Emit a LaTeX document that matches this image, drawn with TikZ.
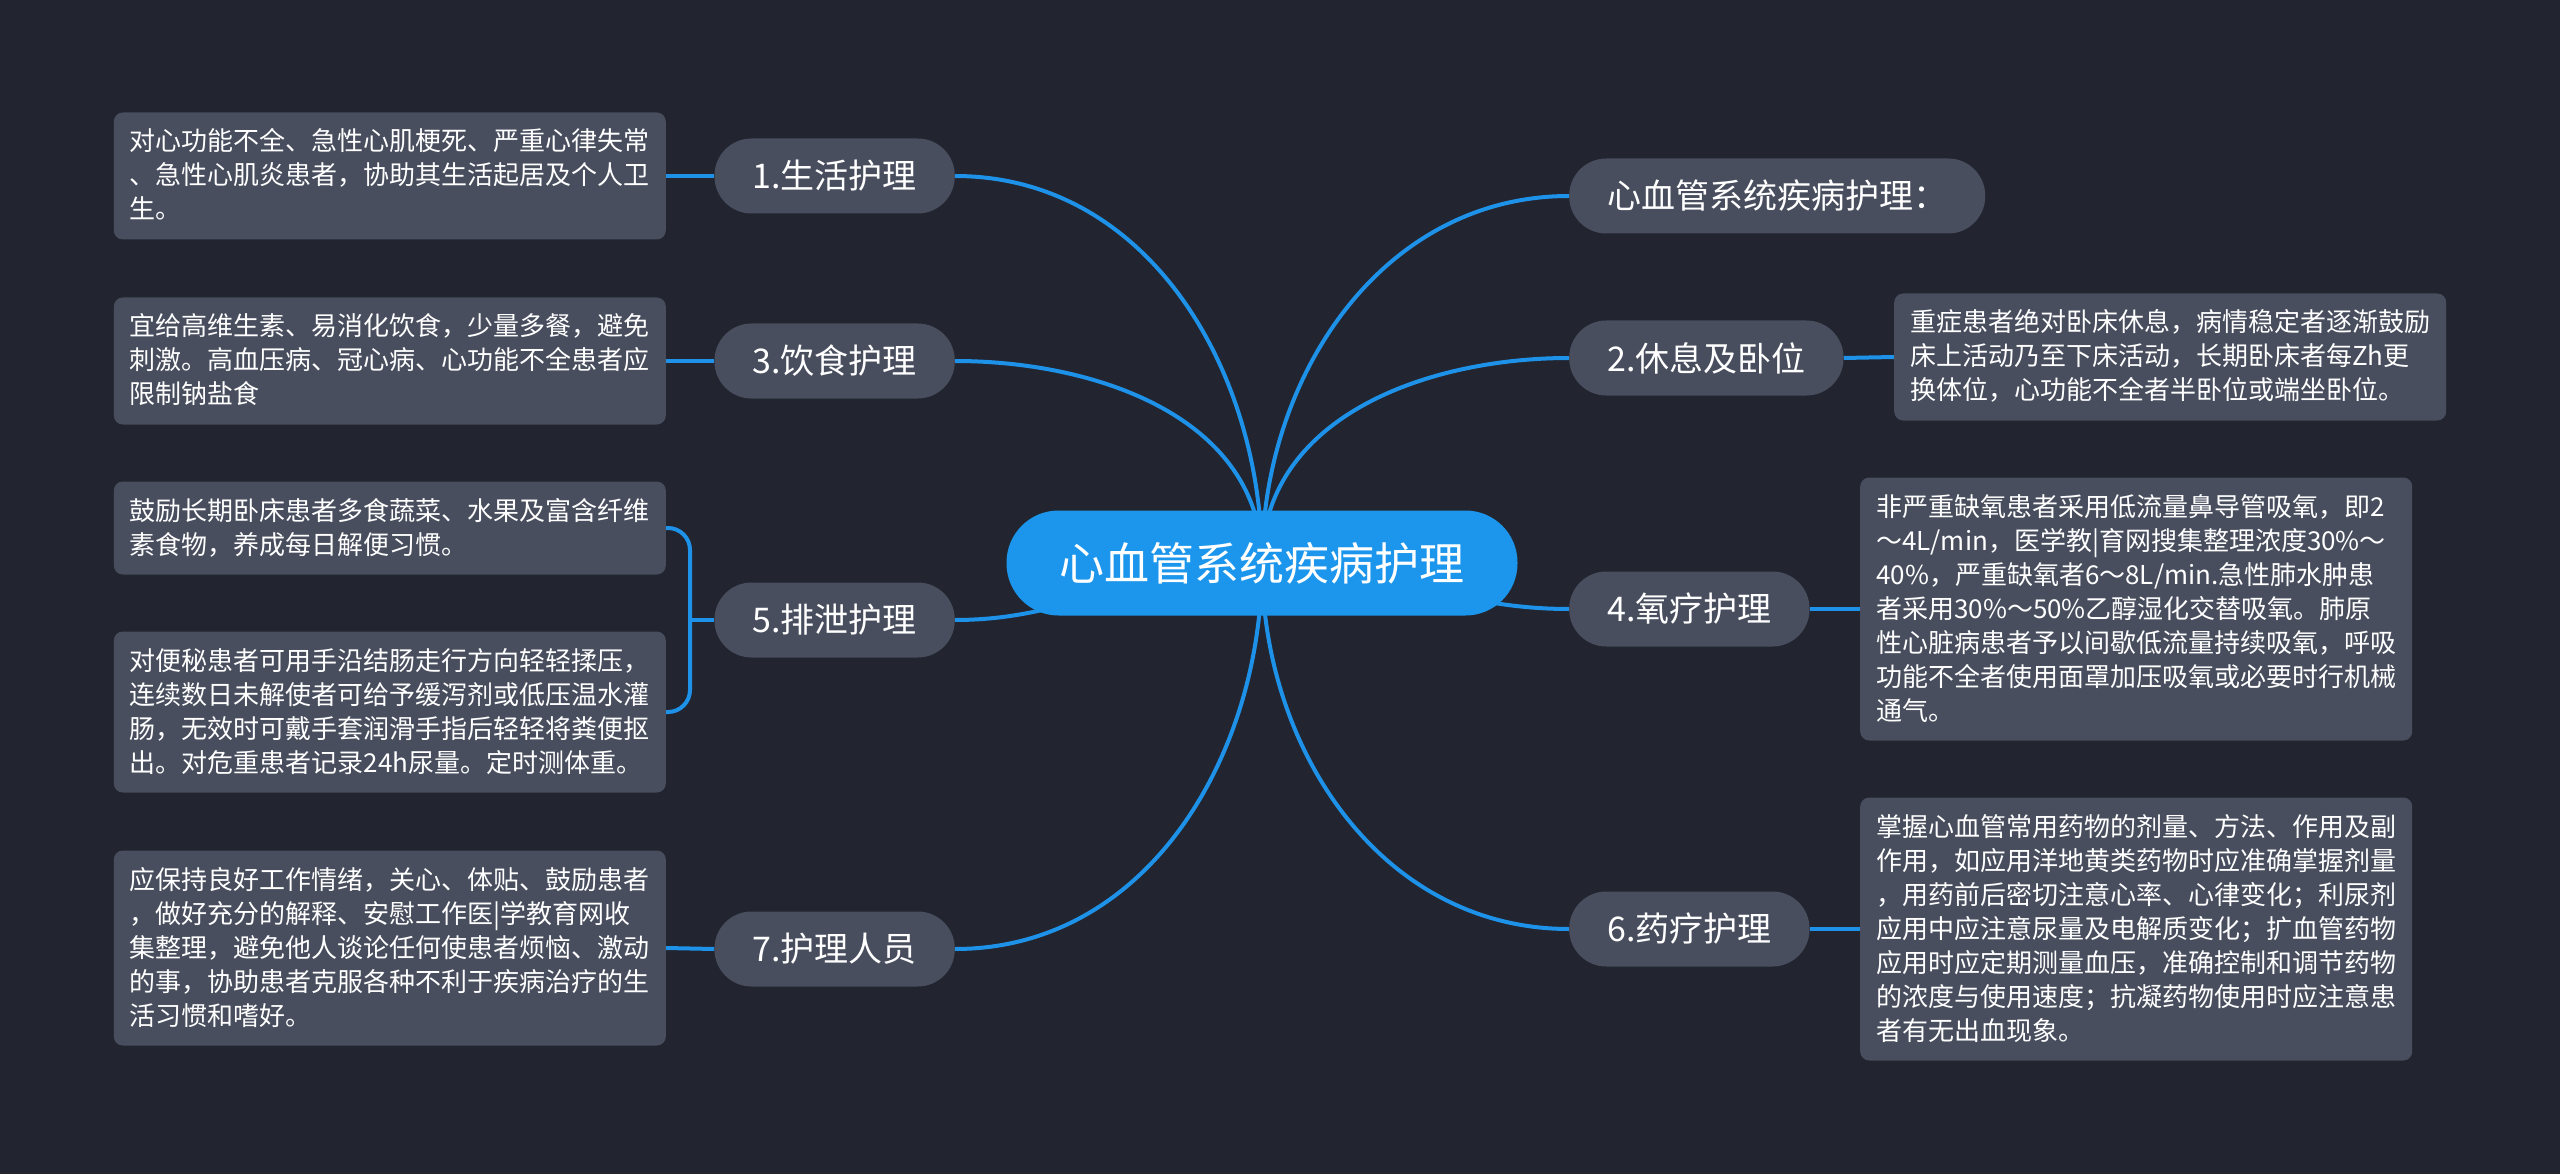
\documentclass[tikz,border=0pt]{standalone}
\usepackage{fontspec}
\setmainfont{Noto Sans CJK SC}
\usetikzlibrary{calc}

\definecolor{bgdark}{RGB}{34,37,47}
\definecolor{boxgray}{RGB}{72,78,94}
\definecolor{rootblue}{RGB}{27,150,236}
\definecolor{linkblue}{RGB}{30,146,232}

\pgfdeclarelayer{back}
\pgfsetlayers{back,main}

\newcommand{\ls}{\rule[-8pt]{0pt}{34pt}}

\tikzset{
  rootnode/.style={fill=rootblue, text=white, rounded corners=52pt, minimum width=511pt,
    minimum height=105pt, inner xsep=53pt, font=\fontsize{45}{54}\selectfont},
  branch/.style={fill=boxgray, text=white, rounded corners=37pt, minimum height=75pt,
    inner xsep=38pt, font=\fontsize{34}{40}\selectfont},
  detail/.style={fill=boxgray, text=white, rounded corners=9pt, text width=520pt,
    inner xsep=16pt, inner ysep=12.5pt, align=left, font=\fontsize{26}{34}\selectfont,
    execute at begin node=\ls, execute at end node=\ls},
  link/.style={draw=linkblue, line width=4pt},
}

\begin{document}
\begin{tikzpicture}[x=1pt,y=-1pt]
  % Draw the root
  \node[rootnode] (root) at (1262,563) {心血管系统疾病护理};

  % Draw the branches on the right
  \node[branch, anchor=west] (title) at (1569,196) {心血管系统疾病护理：};
  \node[branch, anchor=west] (n2) at (1569,358) {2.休息及卧位};
  \node[branch, anchor=west] (n4) at (1569,609) {4.氧疗护理};
  \node[branch, anchor=west] (n6) at (1569,929) {6.药疗护理};

  % Draw the branches on the left
  \node[branch, anchor=east] (n1) at (955,176) {1.生活护理};
  \node[branch, anchor=east] (n3) at (955,361) {3.饮食护理};
  \node[branch, anchor=east] (n5) at (955,620) {5.排泄护理};
  \node[branch, anchor=east] (n7) at (955,949) {7.护理人员};

  % Draw the details on the left
  \node[detail, anchor=east] (d1) at (666,176) {对心功能不全、急性心肌梗死、严重心律失常\\、急性心肌炎患者，协助其生活起居及个人卫\\生。};
  \node[detail, anchor=east] (d3) at (666,361) {宜给高维生素、易消化饮食，少量多餐，避免\\刺激。高血压病、冠心病、心功能不全患者应\\限制钠盐食};
  \node[detail, anchor=east] (d5a) at (666,528) {鼓励长期卧床患者多食蔬菜、水果及富含纤维\\素食物，养成每日解便习惯。};
  \node[detail, anchor=east] (d5b) at (666,712) {对便秘患者可用手沿结肠走行方向轻轻揉压，\\连续数日未解使者可给予缓泻剂或低压温水灌\\肠，无效时可戴手套润滑手指后轻轻将粪便抠\\出。对危重患者记录24h尿量。定时测体重。};
  \node[detail, anchor=east] (d7) at (666,948) {应保持良好工作情绪，关心、体贴、鼓励患者\\，做好充分的解释、安慰工作医|学教育网收\\集整理，避免他人谈论任何使患者烦恼、激动\\的事，协助患者克服各种不利于疾病治疗的生\\活习惯和嗜好。};

  % Draw the details on the right
  \node[detail, anchor=west] (d2) at (1894,357) {重症患者绝对卧床休息，病情稳定者逐渐鼓励\\床上活动乃至下床活动，长期卧床者每Zh更\\换体位，心功能不全者半卧位或端坐卧位。};
  \node[detail, anchor=west] (d4) at (1860,609) {非严重缺氧患者采用低流量鼻导管吸氧，即2\\～4L/min，医学教|育网搜集整理浓度30\%～\\40\%，严重缺氧者6～8L/min.急性肺水肿患\\者采用30\%～50\%乙醇湿化交替吸氧。肺原\\性心脏病患者予以间歇低流量持续吸氧，呼吸\\功能不全者使用面罩加压吸氧或必要时行机械\\通气。};
  \node[detail, anchor=west] (d6) at (1860,929) {掌握心血管常用药物的剂量、方法、作用及副\\作用，如应用洋地黄类药物时应准确掌握剂量\\，用药前后密切注意心率、心律变化；利尿剂\\应用中应注意尿量及电解质变化；扩血管药物\\应用时应定期测量血压，准确控制和调节药物\\的浓度与使用速度；抗凝药物使用时应注意患\\者有无出血现象。};

  \coordinate (j5) at (690,620);

  \begin{pgfonlayer}{back}
    % Draw the background
    \fill[bgdark] (0,0) rectangle (2560,1174);

    % Draw the links from the root
    \draw[link] (root.center) to[out=90,in=180] (title.west);
    \draw[link] (root.center) to[out=90,in=180] (n2.west);
    \draw[link] (root.center) to[out=0,in=180] (n4.west);
    \draw[link] (root.center) to[out=-90,in=180] (n6.west);
    \draw[link] (root.center) to[out=90,in=0] (n1.east);
    \draw[link] (root.center) to[out=90,in=0] (n3.east);
    \draw[link] (root.center) to[out=180,in=0] (n5.east);
    \draw[link] (root.center) to[out=-90,in=0] (n7.east);

    % Draw the links to the details
    \draw[link] (n1.west) -- (d1.east);
    \draw[link] (n3.west) -- (d3.east);
    \draw[link] (n5.west) -- (j5);
    \draw[link, rounded corners=22pt] (d5a.east) -| (j5) |- (d5b.east);
    \draw[link] (n7.west) -- (d7.east);
    \draw[link] (n2.east) -- (d2.west);
    \draw[link] (n4.east) -- (d4.west);
    \draw[link] (n6.east) -- (d6.west);
  \end{pgfonlayer}
\end{tikzpicture}
\end{document}
